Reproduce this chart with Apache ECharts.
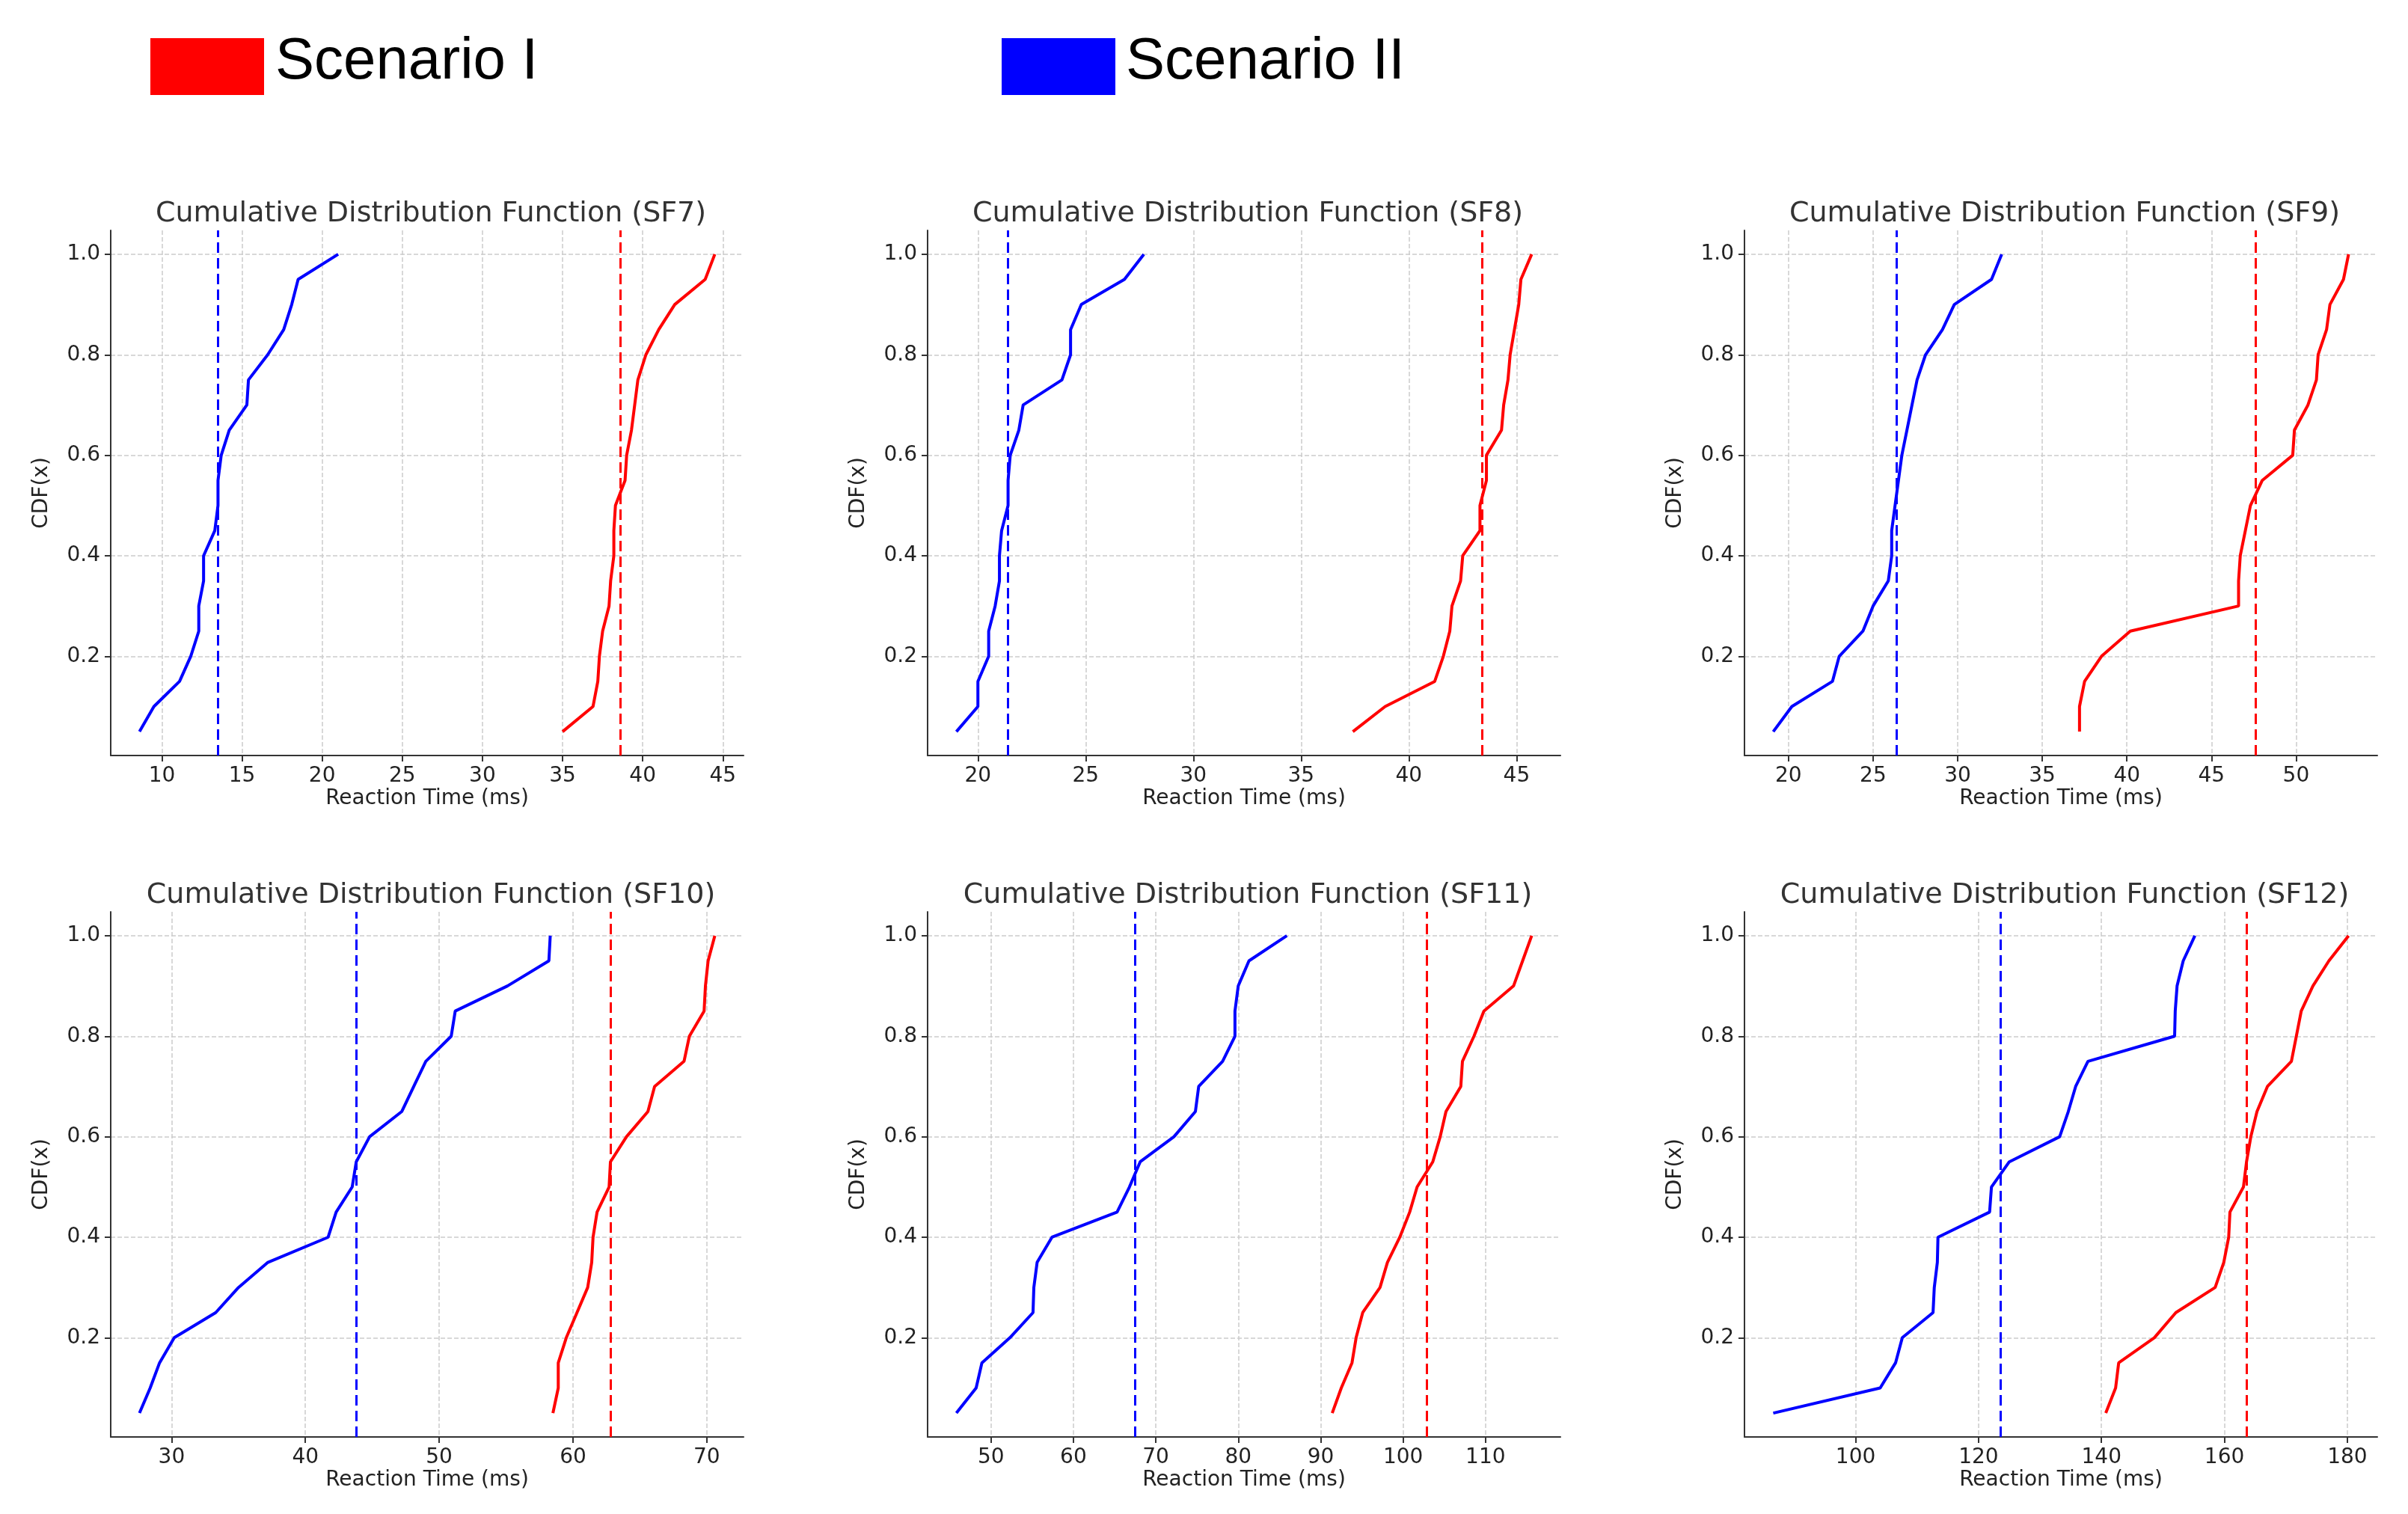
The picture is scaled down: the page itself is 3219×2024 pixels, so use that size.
<!DOCTYPE html>
<html>
<head>
<meta charset="utf-8">
<script src="https://cdn.jsdelivr.net/npm/echarts@6/dist/echarts.min.js"></script>
<style>html,body{margin:0;padding:0;background:#fff}#c{width:3219px;height:2024px}</style>
</head>
<body>
<div id="c"></div>
<script>
// CDF levels (y values)
var cdfLevels = [0.05,0.10,0.15,0.20,0.25,0.30,0.35,0.40,0.45,0.50,0.55,0.60,0.65,0.70,0.75,0.80,0.85,0.90,0.95,1.00];
var yTicks = [0.2,0.4,0.6,0.8,1.0];

// reaction times (ms)
var sf7Blue = [8.6,9.5,11.1,11.8,12.3,12.3,12.6,12.6,13.3,13.5,13.5,13.7,14.2,15.3,15.4,16.6,17.6,18.1,18.5,21.0];
var sf7Red = [35.0,36.9,37.2,37.3,37.5,37.9,38.0,38.2,38.2,38.3,38.9,39.0,39.3,39.5,39.7,40.2,41.0,42.0,43.9,44.5];
var sf8Blue = [19.0,20.0,20.0,20.5,20.5,20.8,21.0,21.0,21.1,21.4,21.4,21.5,21.9,22.1,23.9,24.3,24.3,24.8,26.8,27.7];
var sf8Red = [37.4,38.9,41.2,41.6,41.9,42.0,42.4,42.5,43.3,43.3,43.6,43.6,44.3,44.4,44.6,44.7,44.9,45.1,45.2,45.7];
var sf9Blue = [19.1,20.2,22.6,23.0,24.4,25.0,25.9,26.1,26.1,26.3,26.5,26.7,27.0,27.3,27.6,28.1,29.1,29.8,32.0,32.6];
var sf9Red = [37.2,37.2,37.5,38.5,40.2,46.6,46.6,46.7,47.0,47.3,48.0,49.8,49.9,50.7,51.2,51.3,51.8,52.0,52.8,53.1];
var sf10Blue = [27.6,28.4,29.1,30.2,33.3,35.0,37.2,41.7,42.3,43.5,43.8,44.8,47.2,48.1,49.0,50.9,51.2,55.1,58.2,58.3];
var sf10Red = [58.5,58.9,58.9,59.5,60.3,61.1,61.4,61.5,61.8,62.7,62.8,64.0,65.6,66.1,68.3,68.7,69.8,69.9,70.1,70.6];
var sf11Blue = [45.8,48.2,48.9,52.3,55.1,55.2,55.6,57.4,65.3,66.8,68.1,72.2,74.8,75.2,78.1,79.6,79.6,80.0,81.3,85.9];
var sf11Red = [91.4,92.5,93.8,94.3,95.1,97.2,98.1,99.6,100.8,101.7,103.6,104.5,105.2,107.0,107.2,108.6,109.8,113.4,114.5,115.6];
var sf12Blue = [86.6,104.0,106.5,107.6,112.6,112.8,113.3,113.4,121.8,122.1,125.0,133.2,134.6,135.8,137.8,151.9,152.0,152.3,153.3,155.2];
var sf12Red = [140.7,142.3,142.8,148.6,152.1,158.5,159.9,160.7,160.9,163.1,163.6,164.3,165.3,167.0,170.9,171.7,172.5,174.4,177.0,180.2];

// dashed reference lines (blue, red)
var refBlue = [13.5,21.4,26.4,43.8,67.5,123.6];
var refRed = [38.6,43.4,47.6,62.8,102.9,163.6];

var titles = ['Cumulative Distribution Function (SF7)','Cumulative Distribution Function (SF8)','Cumulative Distribution Function (SF9)',
  'Cumulative Distribution Function (SF10)','Cumulative Distribution Function (SF11)','Cumulative Distribution Function (SF12)'];
var xTicks = [[10,15,20,25,30,35,40,45],[20,25,30,35,40,45],[20,25,30,35,40,45,50],[30,40,50,60,70],[50,60,70,80,90,100,110],[100,120,140,160,180]];
var blues = [sf7Blue,sf8Blue,sf9Blue,sf10Blue,sf11Blue,sf12Blue];
var reds = [sf7Red,sf8Red,sf9Red,sf10Red,sf11Red,sf12Red];

var lefts = [148,1240,2332], tops = [308,1219];
var gw = 846, gh = 702;
var font = 'DejaVu Sans';

var grid = [], xAxis = [], yAxis = [], series = [], title = [];
for (var i = 0; i < 6; i++) {
  var L = lefts[i % 3], T = tops[Math.floor(i / 3)];
  grid.push({left: L, top: T, width: gw, height: gh});
  title.push({text: titles[i], left: L + gw / 2, top: T - 46, textAlign: 'center',
    textStyle: {fontFamily: font, fontSize: 38, fontWeight: 'normal', color: '#333'}});
  var all = blues[i].concat(reds[i]);
  var lo = Math.min.apply(null, all), hi = Math.max.apply(null, all), m = (hi - lo) * 0.05;
  var common = {
    axisLine: {show: true, lineStyle: {color: '#333', width: 2}},
    axisTick: {show: true, length: 8, lineStyle: {color: '#333', width: 2}},
    axisLabel: {fontFamily: font, fontSize: 28, color: '#222'},
    splitLine: {show: true, lineStyle: {color: '#ccc', type: 'dashed', width: 1.5}},
    nameTextStyle: {fontFamily: font, fontSize: 28, color: '#222'}
  };
  xAxis.push(echarts.util.merge({type: 'value', gridIndex: i, min: lo - m, max: hi + m,
    name: 'Reaction Time (ms)', nameLocation: 'middle', nameGap: 44,
    axisTick: {customValues: xTicks[i]}, axisLabel: {customValues: xTicks[i], margin: 14}}, common, false));
  yAxis.push(echarts.util.merge({type: 'value', gridIndex: i, min: 0.0025, max: 1.0475,
    name: 'CDF(x)', nameLocation: 'middle', nameGap: 78,
    axisTick: {customValues: yTicks}, axisLabel: {customValues: yTicks, margin: 14,
      formatter: function (v) { return v.toFixed(1); }}}, common, false));
  series.push({type: 'line', xAxisIndex: i, yAxisIndex: i, symbol: 'none',
    lineStyle: {color: '#0000ff', width: 4},
    data: blues[i].map(function (x, k) { return [x, cdfLevels[k]]; }),
    markLine: {silent: true, symbol: 'none', label: {show: false},
      lineStyle: {color: '#0000ff', type: [14, 7], width: 3}, data: [{xAxis: refBlue[i]}]}});
  series.push({type: 'line', xAxisIndex: i, yAxisIndex: i, symbol: 'none',
    lineStyle: {color: '#ff0000', width: 4},
    data: reds[i].map(function (x, k) { return [x, cdfLevels[k]]; }),
    markLine: {silent: true, symbol: 'none', label: {show: false},
      lineStyle: {color: '#ff0000', type: [14, 7], width: 3}, data: [{xAxis: refRed[i]}]}});
}

var chart = echarts.init(document.getElementById('c'), null, {renderer: 'canvas'});
chart.setOption({
  backgroundColor: '#fff',
  animation: false,
  title: title,
  grid: grid, xAxis: xAxis, yAxis: yAxis, series: series,
  graphic: [
    {type: 'rect', left: 201, top: 51, shape: {width: 152, height: 76}, style: {fill: '#ff0000'}},
    {type: 'text', left: 368, top: 44, style: {text: 'Scenario I', fontFamily: 'Liberation Sans', fontSize: 78, fill: '#000'}},
    {type: 'rect', left: 1339, top: 51, shape: {width: 152, height: 76}, style: {fill: '#0000ff'}},
    {type: 'text', left: 1505, top: 44, style: {text: 'Scenario II', fontFamily: 'Liberation Sans', fontSize: 78, fill: '#000'}}
  ]
});
</script>
</body>
</html>
